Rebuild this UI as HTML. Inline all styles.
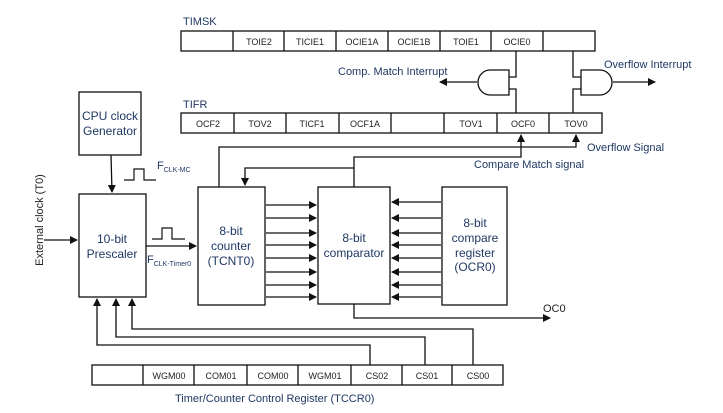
<!DOCTYPE html>
<html><head><meta charset="utf-8"><style>
html,body{margin:0;padding:0;background:#fff;}
svg{display:block;}
.r{font-family:"Liberation Sans",sans-serif;font-size:9px;fill:#222;}
.l{font-family:"Liberation Sans",sans-serif;font-size:11px;fill:#1f3864;}
.b{font-family:"Liberation Sans",sans-serif;font-size:12px;fill:#1f3864;}
</style></head><body>
<svg width="723" height="413" viewBox="0 0 723 413" xmlns="http://www.w3.org/2000/svg">
<defs>
<marker id="a" markerWidth="8" markerHeight="8" refX="7" refY="4" orient="auto" markerUnits="userSpaceOnUse">
<path d="M0,0 L8,4 L0,8 z" fill="#111"/></marker>
</defs>
<g fill="none" stroke="#111" stroke-width="1.3">
<rect x="181" y="31" width="414" height="20"/>
<path d="M233 31v20M284 31v20M336 31v20M388 31v20M440 31v20M491 31v20M543 31v20"/>
<rect x="181" y="113" width="421" height="20"/>
<path d="M234 113v20M286 113v20M339 113v20M391 113v20M444 113v20M497 113v20M549 113v20"/>
<path d="M509 70 H490 A12 12.5 0 0 0 490 95 H509 Z"/>
<path d="M516 51 V77 H509 M509 89 H516 V113"/>
<path d="M477 82 H440" marker-end="url(#a)"/>
<path d="M581 70 H600 A12 12.5 0 0 1 600 95 H581 Z"/>
<path d="M573 51 V77 H581 M581 89 H573 V113"/>
<path d="M613 82 H655" marker-end="url(#a)"/>
<path d="M219 187 V147 H576 V135" marker-end="url(#a)"/>
<path d="M354 187 V157 H521 V135" marker-end="url(#a)"/>
<path d="M354 168 H245 V185" marker-end="url(#a)"/>
<rect x="79" y="92" width="62" height="63"/>
<rect x="79" y="194" width="67" height="103"/>
<rect x="198" y="187" width="67" height="118"/>
<rect x="318" y="187" width="72" height="117"/>
<rect x="442" y="187" width="65" height="118"/>
<path d="M111 155 L112 192" marker-end="url(#a)"/>
<path d="M44 240 H77" marker-end="url(#a)"/>
<path d="M146 246 H196" marker-end="url(#a)"/>
<path d="M124 180 H134 V169 H144 V180 H156" stroke-width="1.2"/>
<path d="M152 239 H162 V228 H172 V239 H185" stroke-width="1.2"/>
<path d="M266 205H316" marker-end="url(#a)"/><path d="M266 218H316" marker-end="url(#a)"/>
<path d="M266 233H316" marker-end="url(#a)"/><path d="M266 245H316" marker-end="url(#a)"/>
<path d="M266 258H316" marker-end="url(#a)"/><path d="M266 272H316" marker-end="url(#a)"/>
<path d="M266 285H316" marker-end="url(#a)"/><path d="M266 297H316" marker-end="url(#a)"/>
<path d="M441 202H392" marker-end="url(#a)"/><path d="M441 218H392" marker-end="url(#a)"/>
<path d="M441 233H392" marker-end="url(#a)"/><path d="M441 245H392" marker-end="url(#a)"/>
<path d="M441 258H392" marker-end="url(#a)"/><path d="M441 272H392" marker-end="url(#a)"/>
<path d="M441 285H392" marker-end="url(#a)"/><path d="M441 297H392" marker-end="url(#a)"/>
<path d="M354 304 V318 H550" marker-end="url(#a)"/>
<rect x="92" y="365" width="411" height="20"/>
<path d="M143 365v20M194 365v20M247 365v20M298 365v20M351 365v20M402 365v20M452 365v20"/>
<path d="M370 365 V345 H97 V299" marker-end="url(#a)"/>
<path d="M425 365 V337 H116 V299" marker-end="url(#a)"/>
<path d="M473 365 V329 H132 V299" marker-end="url(#a)"/>
</g>
<g class="r" text-anchor="middle">
<text x="259" y="45">TOIE2</text><text x="310" y="45">TICIE1</text><text x="362" y="45">OCIE1A</text><text x="414" y="45">OCIE1B</text><text x="466" y="45">TOIE1</text><text x="517" y="45">OCIE0</text>
<text x="208" y="127">OCF2</text><text x="260" y="127">TOV2</text><text x="312" y="127">TICF1</text><text x="365" y="127">OCF1A</text><text x="471" y="127">TOV1</text><text x="523" y="127">OCF0</text><text x="576" y="127">TOV0</text>
<text x="169" y="379">WGM00</text><text x="221" y="379">COM01</text><text x="273" y="379">COM00</text><text x="325" y="379">WGM01</text><text x="377" y="379">CS02</text><text x="427" y="379">CS01</text><text x="478" y="379">CS00</text>
</g>
<g class="l">
<text x="183" y="25">TIMSK</text>
<text x="183" y="108">TIFR</text>
<text x="338" y="75">Comp. Match Interrupt</text>
<text x="604" y="68">Overflow Interrupt</text>
<text x="587" y="151">Overflow Signal</text>
<text x="474" y="168">Compare Match signal</text>
<text x="175" y="402">Timer/Counter Control Register (TCCR0)</text>
<text x="157" y="169">F<tspan font-size="7" dy="3">CLK-MC</tspan></text>
<text x="147" y="263">F<tspan font-size="7" dy="3">CLK-Timer0</tspan></text>
<text x="543" y="312" style="fill:#222">OC0</text>
</g>
<text class="l" x="0" y="0" text-anchor="middle" transform="translate(43,220) rotate(-90)" style="fill:#222">External clock (T0)</text>
<g class="b" text-anchor="middle">
<text x="110" y="120">CPU clock</text><text x="110" y="135">Generator</text>
<text x="112" y="243">10-bit</text><text x="112" y="258">Prescaler</text>
<text x="231" y="235">8-bit</text><text x="231" y="250">counter</text><text x="231" y="265">(TCNT0)</text>
<text x="354" y="242">8-bit</text><text x="354" y="257">comparator</text>
<text x="475" y="227">8-bit</text><text x="475" y="242">compare</text><text x="475" y="257">register</text><text x="475" y="271">(OCR0)</text>
</g>
</svg>
</body></html>
